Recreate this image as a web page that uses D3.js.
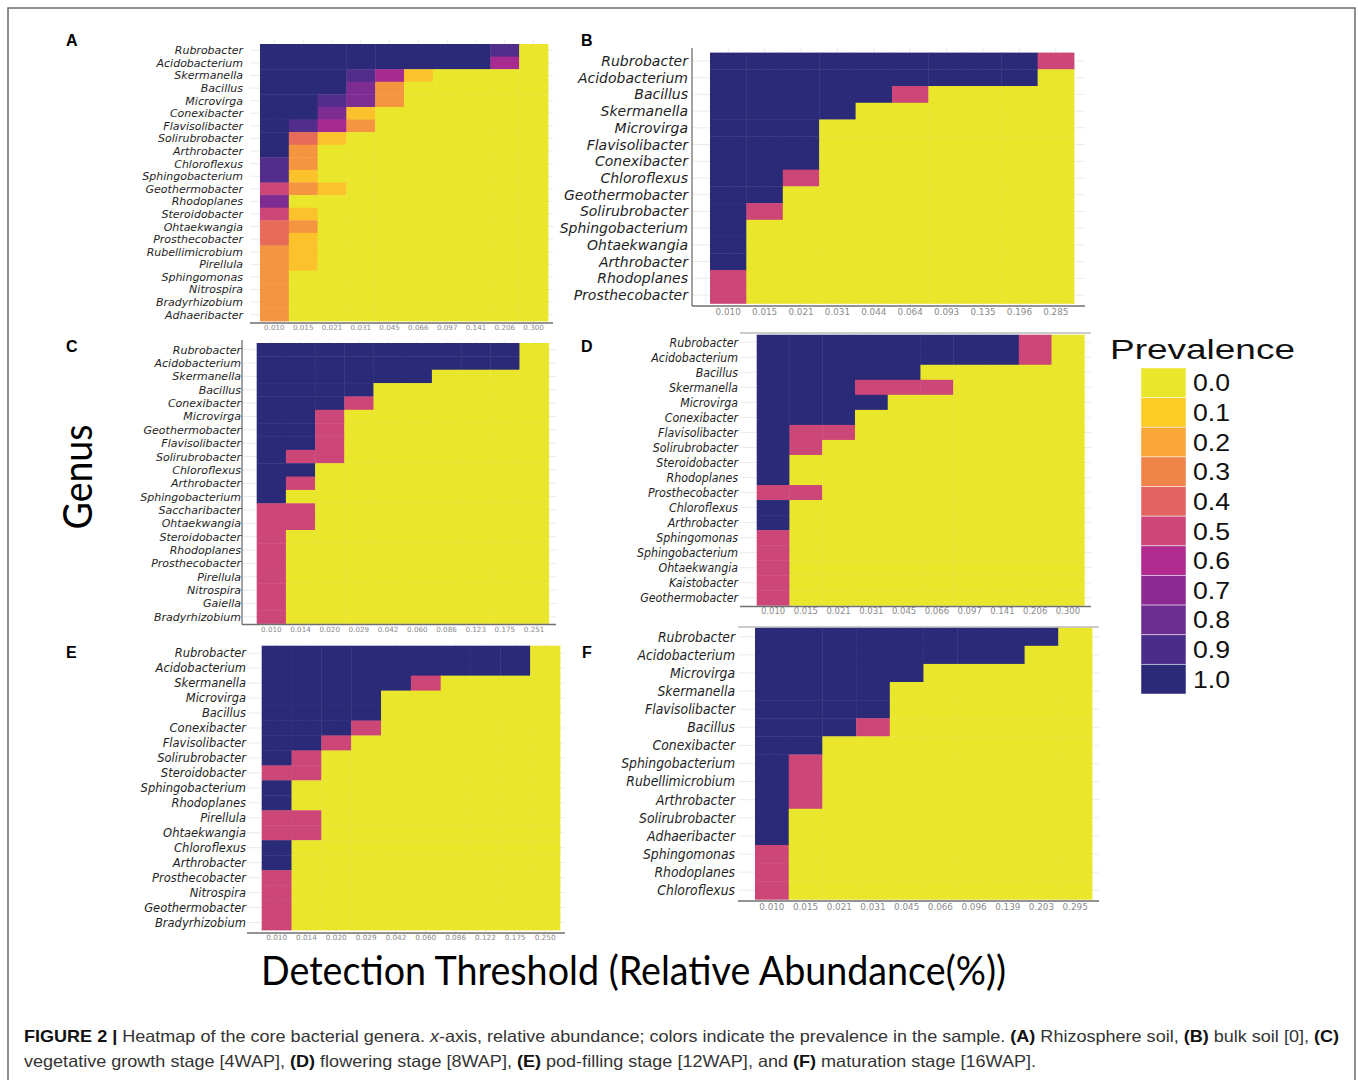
<!DOCTYPE html>
<html><head><meta charset="utf-8">
<script src="https://cdn.jsdelivr.net/npm/d3@7"></script>
<style>body{margin:0;background:#fff}svg{display:block}</style>
</head><body>
<svg id="fig" width="1358" height="1080"></svg>
<script>
// ---------- legend / colour data ----------
const prevalenceLevels = [0, 0.1, 0.2, 0.3, 0.4, 0.5, 0.6, 0.7, 0.8, 0.9, 1.0];
const prevalenceLabels = ["0.0","0.1","0.2","0.3","0.4","0.5","0.6","0.7","0.8","0.9","1.0"];
const prevalenceColors = ["#E9E62B","#FCCB26","#F9A638","#F08348","#E2635F","#CC4677","#B02A8F","#8D2A92","#6C2D90","#4A2D8A","#2A2A78"];

// ---------- panel A: rhizosphere soil ----------
const genusA = ["Rubrobacter","Acidobacterium","Skermanella","Bacillus","Microvirga","Conexibacter","Flavisolibacter","Solirubrobacter","Arthrobacter","Chloroflexus","Sphingobacterium","Geothermobacter","Rhodoplanes","Steroidobacter","Ohtaekwangia","Prosthecobacter","Rubellimicrobium","Pirellula","Sphingomonas","Nitrospira","Bradyrhizobium","Adhaeribacter"];
const ticksA = ["0.010","0.015","0.021","0.031","0.045","0.066","0.097","0.141","0.206","0.300"];
const valuesA = [
  [1,1,1,1,1,1,1,1,0.875,0],
  [1,1,1,1,1,1,1,1,0.625,0],
  [1,1,1,0.875,0.625,0.125,0,0,0,0],
  [1,1,1,0.75,0.25,0,0,0,0,0],
  [1,1,0.875,0.75,0.25,0,0,0,0,0],
  [1,1,0.75,0.125,0,0,0,0,0,0],
  [1,0.875,0.625,0.25,0,0,0,0,0,0],
  [1,0.375,0.125,0,0,0,0,0,0,0],
  [1,0.25,0,0,0,0,0,0,0,0],
  [0.875,0.25,0,0,0,0,0,0,0,0],
  [0.875,0.125,0,0,0,0,0,0,0,0],
  [0.5,0.25,0.125,0,0,0,0,0,0,0],
  [0.75,0,0,0,0,0,0,0,0,0],
  [0.5,0.125,0,0,0,0,0,0,0,0],
  [0.375,0.25,0,0,0,0,0,0,0,0],
  [0.375,0.125,0,0,0,0,0,0,0,0],
  [0.25,0.125,0,0,0,0,0,0,0,0],
  [0.25,0.125,0,0,0,0,0,0,0,0],
  [0.25,0,0,0,0,0,0,0,0,0],
  [0.25,0,0,0,0,0,0,0,0,0],
  [0.25,0,0,0,0,0,0,0,0,0],
  [0.25,0,0,0,0,0,0,0,0,0]
];

// ---------- panel B: bulk soil ----------
const genusB = ["Rubrobacter","Acidobacterium","Bacillus","Skermanella","Microvirga","Flavisolibacter","Conexibacter","Chloroflexus","Geothermobacter","Solirubrobacter","Sphingobacterium","Ohtaekwangia","Arthrobacter","Rhodoplanes","Prosthecobacter"];
const ticksB = ["0.010","0.015","0.021","0.031","0.044","0.064","0.093","0.135","0.196","0.285"];
const valuesB = [
  [1,1,1,1,1,1,1,1,1,0.5],
  [1,1,1,1,1,1,1,1,1,0],
  [1,1,1,1,1,0.5,0,0,0,0],
  [1,1,1,1,0,0,0,0,0,0],
  [1,1,1,0,0,0,0,0,0,0],
  [1,1,1,0,0,0,0,0,0,0],
  [1,1,1,0,0,0,0,0,0,0],
  [1,1,0.5,0,0,0,0,0,0,0],
  [1,1,0,0,0,0,0,0,0,0],
  [1,0.5,0,0,0,0,0,0,0,0],
  [1,0,0,0,0,0,0,0,0,0],
  [1,0,0,0,0,0,0,0,0,0],
  [1,0,0,0,0,0,0,0,0,0],
  [0.5,0,0,0,0,0,0,0,0,0],
  [0.5,0,0,0,0,0,0,0,0,0]
];

// ---------- panel C: vegetative growth stage ----------
const genusC = ["Rubrobacter","Acidobacterium","Skermanella","Bacillus","Conexibacter","Microvirga","Geothermobacter","Flavisolibacter","Solirubrobacter","Chloroflexus","Arthrobacter","Sphingobacterium","Saccharibacter","Ohtaekwangia","Steroidobacter","Rhodoplanes","Prosthecobacter","Pirellula","Nitrospira","Gaiella","Bradyrhizobium"];
const ticksC = ["0.010","0.014","0.020","0.029","0.042","0.060","0.086","0.123","0.175","0.251"];
const valuesC = [
  [1,1,1,1,1,1,1,1,1,0],
  [1,1,1,1,1,1,1,1,1,0],
  [1,1,1,1,1,1,0,0,0,0],
  [1,1,1,1,0,0,0,0,0,0],
  [1,1,1,0.5,0,0,0,0,0,0],
  [1,1,0.5,0,0,0,0,0,0,0],
  [1,1,0.5,0,0,0,0,0,0,0],
  [1,1,0.5,0,0,0,0,0,0,0],
  [1,0.5,0.5,0,0,0,0,0,0,0],
  [1,1,0,0,0,0,0,0,0,0],
  [1,0.5,0,0,0,0,0,0,0,0],
  [1,0,0,0,0,0,0,0,0,0],
  [0.5,0.5,0,0,0,0,0,0,0,0],
  [0.5,0.5,0,0,0,0,0,0,0,0],
  [0.5,0,0,0,0,0,0,0,0,0],
  [0.5,0,0,0,0,0,0,0,0,0],
  [0.5,0,0,0,0,0,0,0,0,0],
  [0.5,0,0,0,0,0,0,0,0,0],
  [0.5,0,0,0,0,0,0,0,0,0],
  [0.5,0,0,0,0,0,0,0,0,0],
  [0.5,0,0,0,0,0,0,0,0,0]
];

// ---------- panel D: flowering stage ----------
const genusD = ["Rubrobacter","Acidobacterium","Bacillus","Skermanella","Microvirga","Conexibacter","Flavisolibacter","Solirubrobacter","Steroidobacter","Rhodoplanes","Prosthecobacter","Chloroflexus","Arthrobacter","Sphingomonas","Sphingobacterium","Ohtaekwangia","Kaistobacter","Geothermobacter"];
const ticksD = ["0.010","0.015","0.021","0.031","0.045","0.066","0.097","0.141","0.206","0.300"];
const valuesD = [
  [1,1,1,1,1,1,1,1,0.5,0],
  [1,1,1,1,1,1,1,1,0.5,0],
  [1,1,1,1,1,0,0,0,0,0],
  [1,1,1,0.5,0.5,0.5,0,0,0,0],
  [1,1,1,1,0,0,0,0,0,0],
  [1,1,1,0,0,0,0,0,0,0],
  [1,0.5,0.5,0,0,0,0,0,0,0],
  [1,0.5,0,0,0,0,0,0,0,0],
  [1,0,0,0,0,0,0,0,0,0],
  [1,0,0,0,0,0,0,0,0,0],
  [0.5,0.5,0,0,0,0,0,0,0,0],
  [1,0,0,0,0,0,0,0,0,0],
  [1,0,0,0,0,0,0,0,0,0],
  [0.5,0,0,0,0,0,0,0,0,0],
  [0.5,0,0,0,0,0,0,0,0,0],
  [0.5,0,0,0,0,0,0,0,0,0],
  [0.5,0,0,0,0,0,0,0,0,0],
  [0.5,0,0,0,0,0,0,0,0,0]
];

// ---------- panel E: pod-filling stage ----------
const genusE = ["Rubrobacter","Acidobacterium","Skermanella","Microvirga","Bacillus","Conexibacter","Flavisolibacter","Solirubrobacter","Steroidobacter","Sphingobacterium","Rhodoplanes","Pirellula","Ohtaekwangia","Chloroflexus","Arthrobacter","Prosthecobacter","Nitrospira","Geothermobacter","Bradyrhizobium"];
const ticksE = ["0.010","0.014","0.020","0.029","0.042","0.060","0.086","0.122","0.175","0.250"];
const valuesE = [
  [1,1,1,1,1,1,1,1,1,0],
  [1,1,1,1,1,1,1,1,1,0],
  [1,1,1,1,1,0.5,0,0,0,0],
  [1,1,1,1,0,0,0,0,0,0],
  [1,1,1,1,0,0,0,0,0,0],
  [1,1,1,0.5,0,0,0,0,0,0],
  [1,1,0.5,0,0,0,0,0,0,0],
  [1,0.5,0,0,0,0,0,0,0,0],
  [0.5,0.5,0,0,0,0,0,0,0,0],
  [1,0,0,0,0,0,0,0,0,0],
  [1,0,0,0,0,0,0,0,0,0],
  [0.5,0.5,0,0,0,0,0,0,0,0],
  [0.5,0.5,0,0,0,0,0,0,0,0],
  [1,0,0,0,0,0,0,0,0,0],
  [1,0,0,0,0,0,0,0,0,0],
  [0.5,0,0,0,0,0,0,0,0,0],
  [0.5,0,0,0,0,0,0,0,0,0],
  [0.5,0,0,0,0,0,0,0,0,0],
  [0.5,0,0,0,0,0,0,0,0,0]
];

// ---------- panel F: maturation stage ----------
const genusF = ["Rubrobacter","Acidobacterium","Microvirga","Skermanella","Flavisolibacter","Bacillus","Conexibacter","Sphingobacterium","Rubellimicrobium","Arthrobacter","Solirubrobacter","Adhaeribacter","Sphingomonas","Rhodoplanes","Chloroflexus"];
const ticksF = ["0.010","0.015","0.021","0.031","0.045","0.066","0.096","0.139","0.203","0.295"];
const valuesF = [
  [1,1,1,1,1,1,1,1,1,0],
  [1,1,1,1,1,1,1,1,0,0],
  [1,1,1,1,1,0,0,0,0,0],
  [1,1,1,1,0,0,0,0,0,0],
  [1,1,1,1,0,0,0,0,0,0],
  [1,1,1,0.5,0,0,0,0,0,0],
  [1,1,0,0,0,0,0,0,0,0],
  [1,0.5,0,0,0,0,0,0,0,0],
  [1,0.5,0,0,0,0,0,0,0,0],
  [1,0.5,0,0,0,0,0,0,0,0],
  [1,0,0,0,0,0,0,0,0,0],
  [1,0,0,0,0,0,0,0,0,0],
  [0.5,0,0,0,0,0,0,0,0,0],
  [0.5,0,0,0,0,0,0,0,0,0],
  [0.5,0,0,0,0,0,0,0,0,0]
];

// ---------- layout (positions / styles only) ----------
const layout = [
  {letter:"A", genus:genusA, ticks:ticksA, values:valuesA, heat:[260,548,44,321], grid:[250,553,40,323],
   labelX:243, labelFont:11, labelScale:1, tickY:330, tickFont:7.2, axes:{bottom:323}, lp:[66,46]},
  {letter:"B", genus:genusB, ticks:ticksB, values:valuesB, heat:[710,1074,52.6,303.4], grid:[692,1085,48,306],
   labelX:688, labelFont:14, labelScale:1, tickY:315, tickFont:8.8, axes:{bottom:306,left:692}, lp:[581,46]},
  {letter:"C", genus:genusC, ticks:ticksC, values:valuesC, heat:[256.7,548.7,343,623.5], grid:[242,556,340,624.5],
   labelX:241, labelFont:11, labelScale:1, tickY:632, tickFont:7.2, axes:{bottom:624.5,left:242}, lp:[66,352]},
  {letter:"D", genus:genusD, ticks:ticksD, values:valuesD, heat:[756.7,1084.3,334.7,605.3], grid:[740,1091,333,606.5],
   labelX:738, labelFont:13, labelScale:0.85, tickY:614, tickFont:8.5, axes:{bottom:606.5,top:333}, lp:[581,352]},
  {letter:"E", genus:genusE, ticks:ticksE, values:valuesE, heat:[261.7,560,645.7,930], grid:[247,565,644,933],
   labelX:246, labelFont:11.5, labelScale:1, tickY:940, tickFont:7.3, axes:{bottom:933}, lp:[66,658]},
  {letter:"F", genus:genusF, ticks:ticksF, values:valuesF, heat:[755,1092,627.7,899.3], grid:[738,1099,627,901],
   labelX:735, labelFont:13.5, labelScale:0.92, tickY:910, tickFont:8.8, axes:{bottom:901,top:627}, lp:[582,658]}
];

const svg = d3.select("#fig");
const color = d3.scaleLinear().domain(prevalenceLevels).range(prevalenceColors).interpolate(d3.interpolateRgb);

// outer frame
svg.append("rect").attr("x",8).attr("y",8).attr("width",1347).attr("height",1100)
  .attr("fill","none").attr("stroke","#6a6a6a").attr("stroke-width",1.5);

function drawPanel(p) {
  const g = svg.append("g");
  const x = d3.scaleBand().domain(p.ticks).range([p.heat[0], p.heat[1]]).padding(0);
  const y = d3.scaleBand().domain(p.genus).range([p.heat[2], p.heat[3]]).padding(0);

  // grid lines
  g.selectAll("line.hg").data(p.genus).join("line")
    .attr("x1", p.grid[0]).attr("x2", p.grid[1])
    .attr("y1", d => y(d) + y.bandwidth()/2).attr("y2", d => y(d) + y.bandwidth()/2)
    .attr("stroke", "#ebebeb").attr("stroke-width", 1);
  g.selectAll("line.vg").data(p.ticks).join("line")
    .attr("y1", p.grid[2]).attr("y2", p.grid[3])
    .attr("x1", d => x(d) + x.bandwidth()/2).attr("x2", d => x(d) + x.bandwidth()/2)
    .attr("stroke", "#ebebeb").attr("stroke-width", 1);

  // cells
  const cells = p.genus.flatMap((gn, i) => p.values[i].map((v, j) => ({g: gn, t: p.ticks[j], v})));
  g.selectAll("rect.cell").data(cells).join("rect")
    .attr("x", d => x(d.t)).attr("y", d => y(d.g))
    .attr("width", x.bandwidth() + 0.4).attr("height", y.bandwidth() + 0.4)
    .attr("fill", d => color(d.v));

  // axis lines
  if (p.axes.bottom !== undefined)
    g.append("line").attr("x1", p.grid[0]).attr("x2", p.grid[1]).attr("y1", p.axes.bottom).attr("y2", p.axes.bottom)
      .attr("stroke", "#6f6f6f").attr("stroke-width", 1.3);
  if (p.axes.left !== undefined)
    g.append("line").attr("x1", p.axes.left).attr("x2", p.axes.left).attr("y1", p.grid[2]).attr("y2", p.axes.bottom)
      .attr("stroke", "#6f6f6f").attr("stroke-width", 1.3);
  if (p.axes.top !== undefined)
    g.append("line").attr("x1", p.grid[0]).attr("x2", p.grid[1]).attr("y1", p.axes.top).attr("y2", p.axes.top)
      .attr("stroke", "#9a9a9a").attr("stroke-width", 1.2);

  // x tick labels
  const xa = g.append("g").attr("transform", `translate(0,${p.tickY})`)
    .call(d3.axisBottom(x).tickSize(0).tickPadding(0));
  xa.select(".domain").remove();
  xa.selectAll("text").attr("y", 0).attr("dy", null)
    .attr("font-family", "DejaVu Sans, sans-serif").attr("font-size", p.tickFont).attr("fill", "#8a8a8a");

  // genus labels
  const ya = g.append("g").attr("transform", `translate(${p.labelX},0) scale(${p.labelScale},1)`)
    .call(d3.axisLeft(y).tickSize(0).tickPadding(0));
  ya.select(".domain").remove();
  ya.selectAll("text").attr("font-family", "DejaVu Sans, sans-serif").attr("font-style", "italic")
    .attr("font-size", p.labelFont).attr("fill", "#1e1e1e").attr("dy", "0.36em");

  // panel letter
  svg.append("text").attr("x", p.lp[0]).attr("y", p.lp[1]).text(p.letter)
    .attr("font-family", "Liberation Sans, Arial, sans-serif").attr("font-weight", "bold")
    .attr("font-size", 16).attr("fill", "#000");
}
layout.forEach(drawPanel);

// legend
const lg = svg.append("g");
lg.append("text").attr("x", 1110).attr("y", 359).text("Prevalence")
  .attr("font-family", "Liberation Sans, Arial, sans-serif").attr("font-size", 28)
  .attr("textLength", 185).attr("lengthAdjust", "spacingAndGlyphs").attr("fill", "#111");
const ly = d3.scaleBand().domain(prevalenceLabels).range([368, 694]);
lg.selectAll("rect").data(prevalenceLabels).join("rect")
  .attr("x", 1141).attr("y", d => ly(d)).attr("width", 45).attr("height", ly.bandwidth())
  .attr("fill", (d, i) => color(prevalenceLevels[i])).attr("stroke", "#ffffff").attr("stroke-width", 0.8).attr("stroke-opacity", 0.6);
lg.selectAll("text.lab").data(prevalenceLabels).join("text").attr("class", "lab")
  .attr("x", 1193).attr("y", d => ly(d) + ly.bandwidth()/2 + 8.5).text(d => d)
  .attr("font-family", "Liberation Sans, Arial, sans-serif").attr("font-size", 23.5)
  .attr("textLength", 37).attr("lengthAdjust", "spacingAndGlyphs").attr("fill", "#111");

// shared axis titles
svg.append("text").attr("x", 261).attr("y", 985).text("Detection Threshold (Relative Abundance(%))")
  .attr("font-family", "Lato, Open Sans, sans-serif").attr("font-size", 40)
  .attr("textLength", 745).attr("lengthAdjust", "spacingAndGlyphs").attr("fill", "#000");
svg.append("text").attr("transform", "translate(92,477) rotate(-90)").attr("text-anchor", "middle").text("Genus")
  .attr("font-family", "Lato, Open Sans, sans-serif").attr("font-size", 40)
  .attr("textLength", 105).attr("lengthAdjust", "spacingAndGlyphs").attr("fill", "#000");

// caption
const cap1 = svg.append("text").attr("x", 24).attr("y", 1042)
  .attr("font-family", "Liberation Sans, Arial, sans-serif").attr("font-size", 16.5).attr("fill", "#333")
  .attr("textLength", 1315).attr("lengthAdjust", "spacingAndGlyphs");
[["FIGURE 2 | ", "b"], ["Heatmap of the core bacterial genera. ", ""], ["x", "i"], ["-axis, relative abundance; colors indicate the prevalence in the sample. ", ""],
 ["(A)", "b"], [" Rhizosphere soil, ", ""], ["(B)", "b"], [" bulk soil [0], ", ""], ["(C)", "b"]].forEach(([t, s]) => {
  const ts = cap1.append("tspan").text(t);
  if (s === "b") ts.attr("font-weight", "bold").attr("fill", "#111");
  if (s === "i") ts.attr("font-style", "italic");
});
const cap2 = svg.append("text").attr("x", 24).attr("y", 1067)
  .attr("font-family", "Liberation Sans, Arial, sans-serif").attr("font-size", 16.5).attr("fill", "#333")
  .attr("textLength", 1012).attr("lengthAdjust", "spacingAndGlyphs");
[["vegetative growth stage [4WAP], ", ""], ["(D)", "b"], [" flowering stage [8WAP], ", ""], ["(E)", "b"],
 [" pod-filling stage [12WAP], and ", ""], ["(F)", "b"], [" maturation stage [16WAP].", ""]].forEach(([t, s]) => {
  const ts = cap2.append("tspan").text(t);
  if (s === "b") ts.attr("font-weight", "bold").attr("fill", "#111");
});
</script>
</body></html>
